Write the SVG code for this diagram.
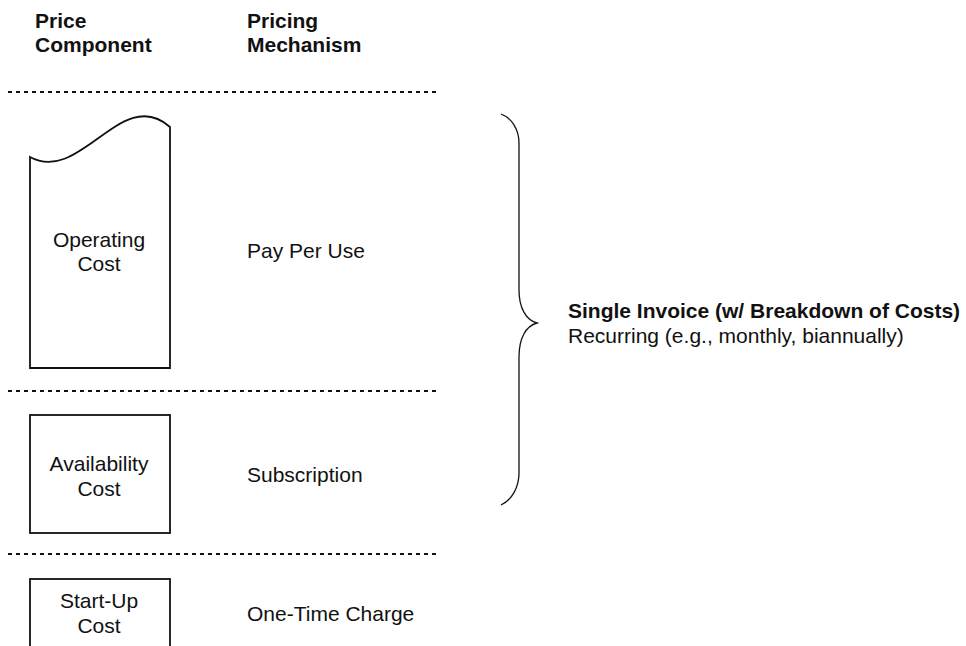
<svg xmlns="http://www.w3.org/2000/svg" width="966" height="646" viewBox="0 0 966 646">
  <style>
    text { font-family: "Liberation Sans", Arial, Helvetica, sans-serif; font-size: 21px; fill: #111; }
    .bold { font-weight: bold; }
    .mid { text-anchor: middle; }
    .box { fill: #fff; stroke: #111; stroke-width: 1.8; }
    .divider { fill: none; stroke: #111; stroke-width: 2; stroke-dasharray: 4 4; }
    .brace { fill: none; stroke: #111; stroke-width: 1.3; }
  </style>

  <!-- column headers -->
  <g id="header-component">
    <text class="bold" x="35" y="28">Price</text>
    <text class="bold" x="35" y="52">Component</text>
  </g>
  <g id="header-mechanism">
    <text class="bold" x="247" y="28">Pricing</text>
    <text class="bold" x="247" y="52">Mechanism</text>
  </g>

  <!-- row dividers -->
  <g id="dividers">
    <line class="divider" x1="8" y1="92" x2="438" y2="92"/>
    <line class="divider" x1="8" y1="391" x2="438" y2="391"/>
    <line class="divider" x1="8" y1="554" x2="438" y2="554"/>
  </g>

  <!-- operating cost: document-style shape with wavy top -->
  <g id="operating-cost">
    <path class="box" d="M30,157 C80,185 122,84 170,127 L170,368 L30,368 Z"/>
    <text class="mid" x="99" y="247">Operating</text>
    <text class="mid" x="99" y="271">Cost</text>
  </g>
  <g id="pay-per-use">
    <text x="247" y="258">Pay Per Use</text>
  </g>

  <!-- availability cost -->
  <g id="availability-cost">
    <rect class="box" x="30" y="415" width="140" height="118"/>
    <text class="mid" x="99" y="471">Availability</text>
    <text class="mid" x="99" y="496">Cost</text>
  </g>
  <g id="subscription">
    <text x="247" y="482">Subscription</text>
  </g>

  <!-- start-up cost (runs past the bottom edge) -->
  <g id="startup-cost">
    <rect class="box" x="30" y="579" width="140" height="80"/>
    <text class="mid" x="99" y="608">Start-Up</text>
    <text class="mid" x="99" y="633">Cost</text>
  </g>
  <g id="one-time-charge">
    <text x="247" y="621">One-Time Charge</text>
  </g>

  <!-- curly brace grouping the recurring components -->
  <g id="connectors">
    <path class="brace" d="M501,114 C512,118 519,130 519,143 L519,290 C519,308 526,320 537,323 C526,326 519,338 519,357 L519,473 C519,487 512,500 501,505"/>
  </g>

  <g id="invoice-note">
    <text class="bold" x="568" y="318">Single Invoice (w/ Breakdown of Costs)</text>
    <text x="568" y="343">Recurring (e.g., monthly, biannually)</text>
  </g>
</svg>
